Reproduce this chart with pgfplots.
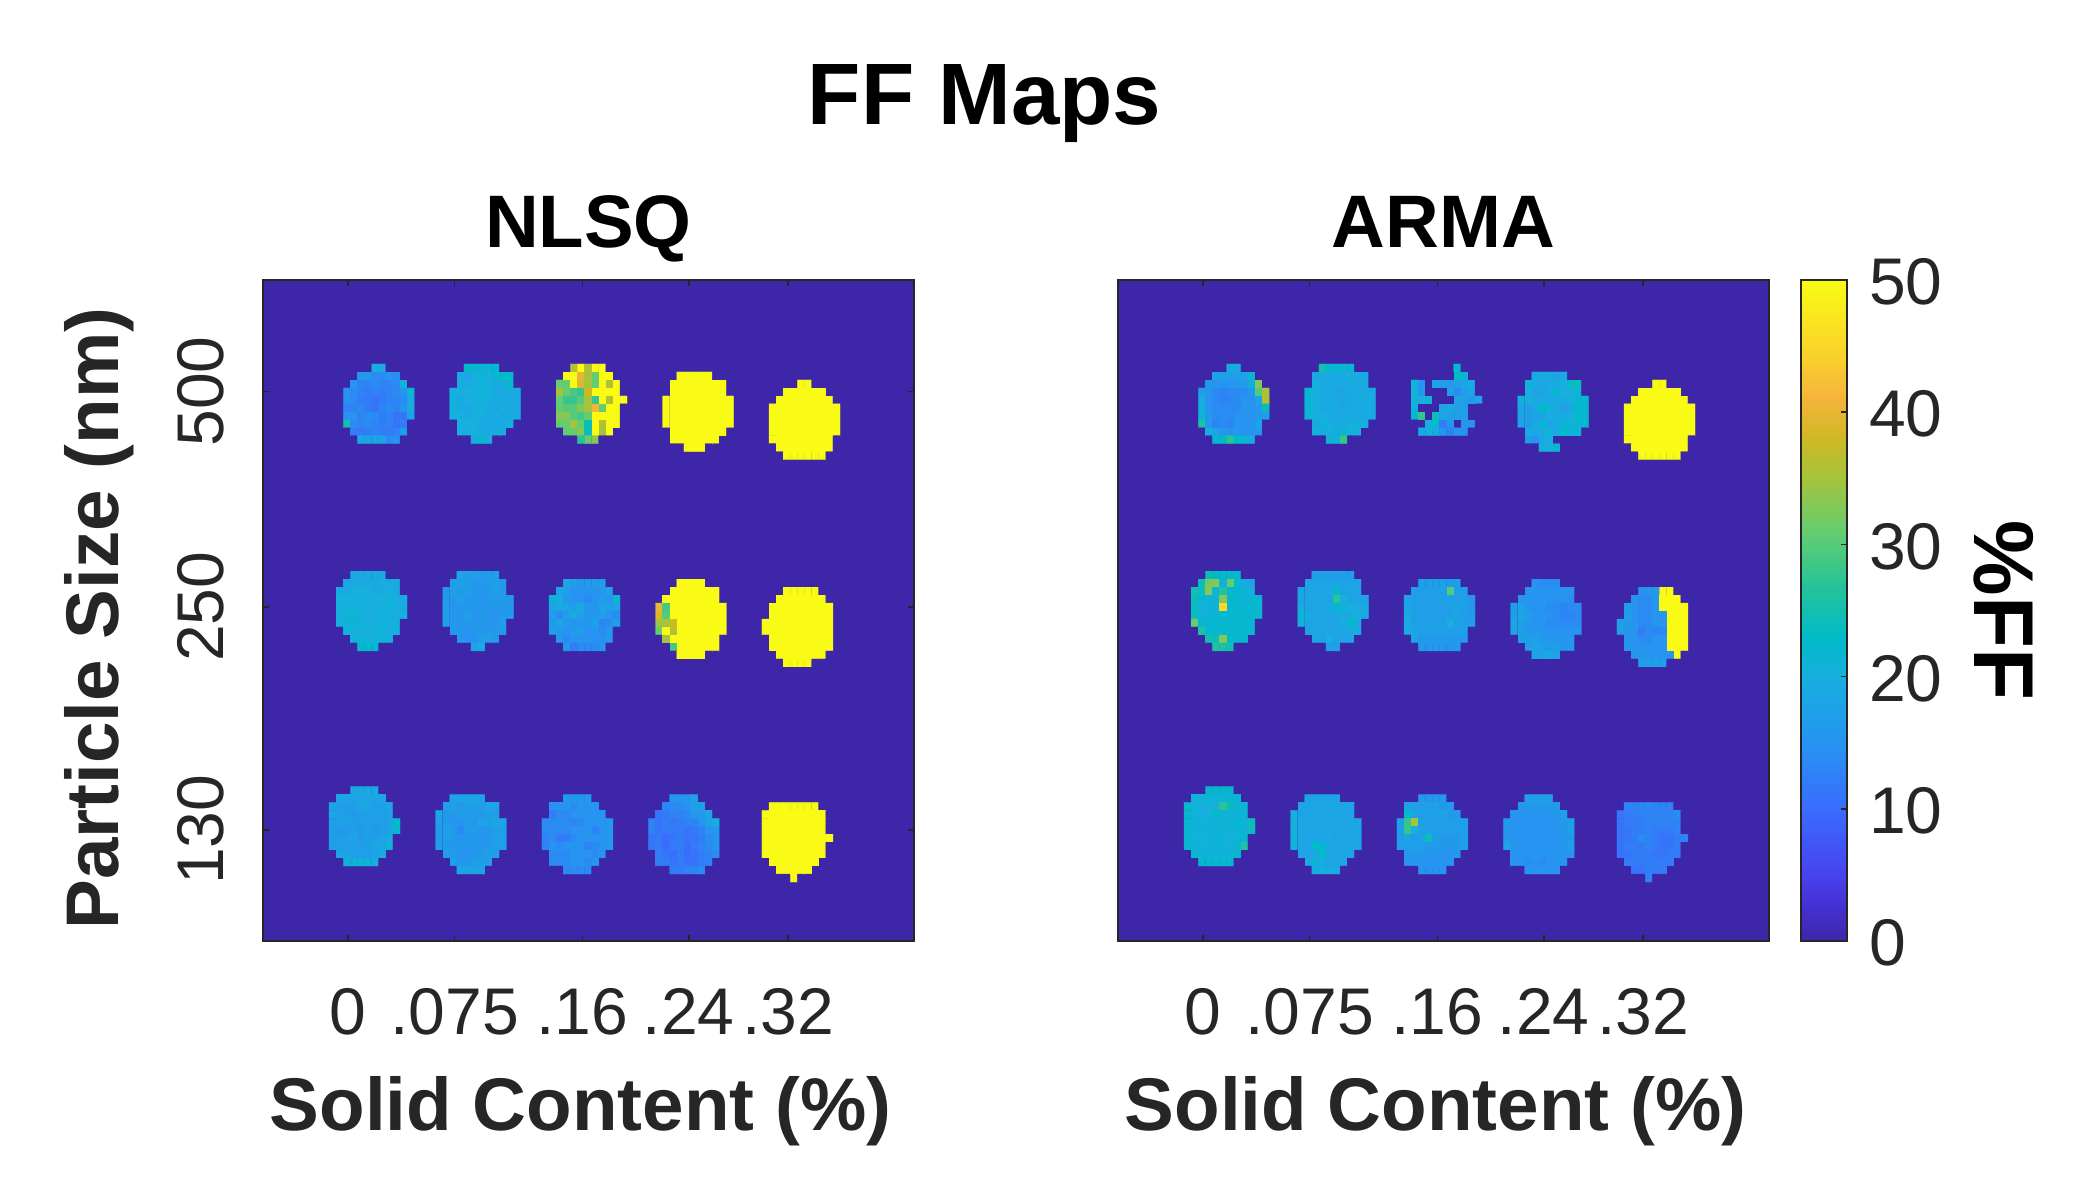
\documentclass[border=0pt]{standalone}
\usepackage{pgfplots}
\pgfplotsset{compat=1.18}
\usepackage{fontspec}
\setmainfont{Liberation Sans}
\definecolor{bgc}{RGB}{62,38,168}
\definecolor{ink}{gray}{0.15}
\newcount\bc \newcount\br
\newcommand\blob[4]{%
  \global\bc=0 \global\br=0
  \gdef\blobdata{}%
  \foreach \v in {#4}{%
    \pgfmathsetmacro\xx{#1+0.81+\the\bc}%
    \pgfmathsetmacro\yy{#2+1.04+\the\br}%
    \xdef\blobdata{\blobdata (\xx,\yy) [\v]}%
    \global\advance\bc by 1
    \ifnum\bc=#3 \global\bc=0 \global\advance\br by 1 \fi
  }%
  \edef\tmp{\noexpand\addplot[matrix plot*, mesh/cols=#3, mesh/ordering=x varies, point meta=explicit, draw=mapped color, line width=0.1pt] coordinates {\blobdata};}%
  \tmp
}
\pgfplotsset{
  colormap={ffparula}{rgb255(0cm)=(62,38,168) rgb255(3cm)=(70,50,215) rgb255(5cm)=(72,66,238) rgb255(10cm)=(58,108,253) rgb255(15cm)=(38,148,240) rgb255(20cm)=(22,175,222) rgb255(23cm)=(0,187,200) rgb255(27cm)=(40,195,150) rgb255(31cm)=(100,205,110) rgb255(35cm)=(165,195,60) rgb255(38cm)=(205,185,35) rgb255(41cm)=(245,180,60) rgb255(45cm)=(250,215,40) rgb255(50cm)=(249,251,20)},
  ffbase/.style={
    scale only axis, height=330.5pt, axis on top,
    point meta min=0, point meta max=50,
    colormap name=ffparula,
    tick align=inside, major tick length=3pt,
    every tick/.style={ink, line width=0.8pt},
    axis line style={ink, line width=0.9pt},
    tick label style={font=\fontsize{33}{36}\selectfont, text=ink},
  },
  ffaxis/.style={
    ffbase,
    xmin=0, xmax=91.74, ymin=0, ymax=82.94, y dir=reverse,
    axis background/.style={fill=bgc},
    xtick={12,27,45,60,74},
    xticklabels={0,.075,.16,.24,.32},
    xticklabel style={yshift=-20.3pt},
    label style={font=\bfseries\fontsize{37.3}{42}\selectfont, text=ink},
    xlabel={Solid Content (\%)},
    xlabel style={yshift=-13.7pt, xshift=-4pt},
    title style={font=\bfseries\fontsize{37.2}{42}\selectfont, text=black, at={(0.5,1)}, anchor=base, yshift=10pt},
  }
}
\begin{document}
\begin{tikzpicture}
\path[use as bounding box] (0,0) rectangle (1040.5pt,591pt);
\node[font=\bfseries\fontsize{43.6}{48}\selectfont] at (492.3pt,539pt) {FF Maps};
\begin{axis}[ffaxis, at={(131.5pt,120.5pt)}, anchor=south west, width=325.5pt,
  title={NLSQ},
  ytick={14,41,69}, yticklabels={500,250,130},
  yticklabel style={rotate=90, anchor=south, yshift=16pt},
  ylabel={Particle Size (nm)}, ylabel style={yshift=14.5pt, xshift=-4pt}]
\blob{11}{10}{10}{
0,0,0,0,20,19,0,0,0,0,
0,0,16,16,14,14,15,14,0,0,
0,15,13,13,14,13,13,14,21,0,
15,14,13,12,13,12,13,14,15,22,
15,14,12,12,11,12,13,13,14,19,
13,13,14,12,11,13,14,13,15,19,
15,15,13,14,14,12,13,11,11,18,
25,14,13,14,13,12,13,11,12,0,
0,12,12,12,13,12,12,13,17,0,
0,0,19,18,18,18,14,15,0,0}
\blob{26}{10}{10}{
0,0,23,22,21,22,22,0,0,0,
0,19,18,20,21,20,22,23,23,0,
0,19,19,20,21,20,19,20,22,0,
20,20,20,20,21,21,19,19,19,19,
21,19,20,20,21,20,19,19,19,19,
20,19,19,20,20,19,19,20,19,19,
20,20,19,20,20,19,20,19,19,19,
0,20,20,20,19,19,19,19,20,0,
0,20,20,20,19,19,19,20,0,0,
0,0,0,19,22,20,0,0,0,0}
\blob{41}{10}{10}{
0,0,36,50,36,50,50,0,0,0,
0,50,50,40,35,31,50,50,0,0,
31,31,50,39,35,31,50,36,50,0,
35,31,29,28,38,50,50,50,50,0,
31,28,28,30,35,28,50,36,50,50,
31,30,30,33,35,41,31,50,50,0,
33,33,30,29,31,50,50,50,50,0,
31,31,35,31,24,50,36,50,50,0,
0,31,31,33,24,50,35,50,0,0,
0,0,0,27,31,33,0,0,0,0}
\blob{56}{11}{10}{
0,0,50,50,50,50,50,0,0,0,
0,50,50,50,50,50,50,50,50,0,
0,50,50,50,50,50,50,50,50,0,
50,50,50,50,50,50,50,50,50,50,
50,50,50,50,50,50,50,50,50,50,
50,50,50,50,50,50,50,50,50,50,
50,50,50,50,50,50,50,50,50,50,
0,50,50,50,50,50,50,50,50,0,
0,50,50,50,50,50,50,50,0,0,
0,0,0,50,50,50,0,0,0,0}
\blob{71}{12}{10}{
0,0,0,0,50,50,0,0,0,0,
0,0,50,50,50,50,50,50,0,0,
0,50,50,50,50,50,50,50,50,0,
50,50,50,50,50,50,50,50,50,50,
50,50,50,50,50,50,50,50,50,50,
50,50,50,50,50,50,50,50,50,50,
50,50,50,50,50,50,50,50,50,50,
50,50,50,50,50,50,50,50,50,0,
0,50,50,50,50,50,50,50,50,0,
0,0,50,50,50,50,50,50,0,0}
\blob{10}{36}{10}{
0,0,19,19,19,19,19,0,0,0,
0,19,19,19,19,19,20,19,19,0,
19,19,20,20,20,19,19,20,19,0,
20,20,20,20,20,20,20,21,20,19,
20,20,21,20,20,20,20,21,20,19,
20,21,21,21,20,20,21,20,20,20,
20,21,21,21,20,20,21,21,20,0,
0,21,20,20,20,21,21,20,20,0,
0,0,21,21,21,20,21,21,0,0,
0,0,0,22,23,22,0,0,0,0}
\blob{25}{36}{10}{
0,0,18,17,17,16,17,17,0,0,
0,17,17,17,16,16,16,17,16,0,
16,17,16,17,16,15,16,17,16,0,
16,16,17,16,16,15,16,16,16,16,
17,15,16,16,16,16,15,16,16,16,
17,16,16,17,15,16,16,15,16,16,
17,16,15,16,16,16,15,15,17,0,
0,16,16,15,16,16,16,16,16,0,
0,0,16,15,15,17,17,16,0,0,
0,0,0,0,18,19,0,0,0,0}
\blob{40}{37}{10}{
0,0,18,17,16,16,17,17,0,0,
0,18,17,15,15,15,15,16,18,0,
22,19,16,15,15,14,15,16,15,22,
18,19,18,17,19,16,15,18,17,18,
17,14,17,19,17,15,16,17,15,14,
16,18,16,15,15,16,17,13,14,17,
17,16,15,16,17,15,15,14,16,0,
0,16,14,15,15,15,15,15,16,0,
0,0,16,12,14,14,14,15,0,0}
\blob{55}{37}{10}{
0,0,0,50,50,50,50,0,0,0,
0,0,50,50,50,50,50,50,50,0,
0,50,50,50,50,50,50,50,50,0,
40,29,50,50,50,50,50,50,50,50,
39,30,50,50,50,50,50,50,50,50,
35,35,38,50,50,50,50,50,50,50,
31,50,36,50,50,50,50,50,50,50,
0,35,50,50,50,50,50,50,50,0,
0,0,29,50,50,50,50,50,50,0,
0,0,0,50,50,50,50,0,0,0}
\blob{70}{38}{10}{
0,0,0,50,50,50,50,50,0,0,
0,0,50,50,50,50,50,50,50,0,
0,50,50,50,50,50,50,50,50,50,
0,50,50,50,50,50,50,50,50,50,
50,50,50,50,50,50,50,50,50,50,
50,50,50,50,50,50,50,50,50,50,
0,50,50,50,50,50,50,50,50,50,
0,50,50,50,50,50,50,50,50,50,
0,0,50,50,50,50,50,50,50,0,
0,0,0,50,50,50,50,0,0,0}
\blob{9}{63}{10}{
0,0,0,19,19,19,19,0,0,0,
0,18,18,18,18,18,18,18,0,0,
18,17,17,17,18,18,17,17,18,0,
18,17,17,16,17,17,17,17,18,0,
17,17,17,17,17,17,17,17,18,23,
17,16,16,17,16,17,16,17,18,22,
17,17,17,18,16,17,17,18,19,0,
17,17,17,17,17,17,18,18,21,0,
0,18,18,17,17,17,18,19,0,0,
0,0,21,21,21,21,20,0,0,0}
\blob{24}{64}{10}{
0,0,18,18,18,18,18,0,0,0,
0,17,17,16,17,17,17,18,18,0,
19,16,16,17,16,17,16,17,17,0,
17,16,15,15,17,16,18,17,18,18,
16,17,16,14,16,17,15,16,17,17,
16,17,16,15,16,16,15,16,17,17,
17,16,16,16,15,16,16,16,17,17,
0,17,16,15,15,16,16,17,17,0,
0,0,17,16,16,17,17,17,0,0,
0,0,0,18,18,18,18,0,0,0}
\blob{39}{64}{10}{
0,0,0,16,16,16,16,0,0,0,
0,15,15,15,14,15,15,15,0,0,
0,12,14,14,15,15,15,15,15,0,
14,14,14,14,13,14,15,15,15,16,
14,14,14,14,15,15,15,13,15,16,
13,14,12,12,14,15,15,15,15,16,
13,15,14,15,15,15,13,14,15,16,
0,14,14,14,15,15,15,14,15,0,
0,14,14,14,15,15,14,15,0,0,
0,0,0,14,14,14,14,0,0,0}
\blob{54}{64}{10}{
0,0,0,16,15,15,18,0,0,0,
0,0,13,14,14,15,17,17,0,0,
0,11,12,13,13,14,16,16,18,0,
13,11,12,11,12,13,13,15,18,20,
13,11,12,12,12,11,12,13,15,16,
11,12,10,11,12,11,11,12,14,15,
11,12,10,12,12,10,12,13,14,15,
0,12,11,10,12,10,11,12,13,14,
0,12,12,11,12,11,11,12,13,0,
0,0,0,12,12,13,13,14,0,0}
\blob{70}{65}{10}{
0,50,50,50,50,50,50,50,0,0,
50,50,50,50,50,50,50,50,50,0,
50,50,50,50,50,50,50,50,50,0,
50,50,50,50,50,50,50,50,50,0,
50,50,50,50,50,50,50,50,50,50,
50,50,50,50,50,50,50,50,50,0,
50,50,50,50,50,50,50,50,50,0,
0,50,50,50,50,50,50,50,0,0,
0,0,50,50,50,50,50,0,0,0,
0,0,0,0,50,0,0,0,0,0}
\end{axis}
\begin{axis}[ffaxis, at={(559pt,120.5pt)}, anchor=south west, width=325.5pt,
  title={ARMA},
  ytick=\empty]
\blob{11}{10}{10}{
0,0,0,0,19,19,0,0,0,0,
0,0,18,17,17,17,18,22,0,0,
0,16,15,15,15,16,16,19,33,0,
17,15,14,13,14,14,14,16,30,35,
19,15,14,13,13,14,15,15,18,36,
21,15,14,14,14,14,15,15,16,24,
21,16,14,14,14,15,15,15,16,17,
26,16,13,14,13,15,15,15,18,0,
0,20,18,15,15,16,15,15,16,0,
0,0,22,23,27,23,21,19,0,0}
\blob{26}{10}{10}{
0,0,25,22,22,21,22,0,0,0,
0,19,19,19,19,19,20,19,19,0,
0,20,19,19,19,19,19,19,19,0,
22,20,19,19,18,18,19,19,19,19,
22,20,19,19,19,18,18,19,19,19,
22,20,19,19,19,18,19,19,19,19,
21,20,20,19,19,19,19,19,19,19,
0,19,21,20,19,19,20,21,20,0,
0,20,19,20,19,22,20,20,0,0,
0,0,0,21,21,28,0,0,0,0}
\blob{41}{10}{10}{
0,0,0,0,0,0,22,0,0,0,
0,0,0,0,0,0,23,22,0,0,
21,15,0,18,17,16,17,18,19,0,
21,16,0,0,0,17,14,17,18,0,
21,20,21,0,0,0,18,17,16,18,
21,0,0,0,18,19,17,17,0,0,
22,28,0,24,18,17,17,17,0,0,
0,0,21,23,12,16,0,15,15,0,
0,19,20,19,16,13,15,15,0,0}
\blob{56}{11}{10}{
0,0,19,19,19,18,19,0,0,0,
0,21,19,18,19,19,20,23,24,0,
0,20,18,18,19,22,20,20,21,0,
21,20,19,19,19,19,19,20,22,22,
18,17,19,23,21,19,17,19,22,22,
18,17,18,18,20,19,19,20,23,22,
18,17,19,22,18,19,22,21,22,22,
0,19,19,19,21,19,23,21,21,0,
0,17,15,19,20,0,0,0,0,0,
0,0,0,20,20,22,0,0,0,0}
\blob{71}{12}{10}{
0,0,0,0,50,50,0,0,0,0,
0,0,50,50,50,50,50,50,0,0,
0,50,50,50,50,50,50,50,50,0,
50,50,50,50,50,50,50,50,50,50,
50,50,50,50,50,50,50,50,50,50,
50,50,50,50,50,50,50,50,50,50,
50,50,50,50,50,50,50,50,50,50,
50,50,50,50,50,50,50,50,50,0,
0,50,50,50,50,50,50,50,50,0,
0,0,50,50,50,50,50,50,0,0}
\blob{10}{36}{10}{
0,0,24,23,23,22,22,0,0,0,
0,24,32,33,21,31,22,19,18,0,
25,24,33,21,26,22,22,21,20,0,
24,22,21,21,33,22,22,21,22,22,
24,20,21,21,45,22,22,22,22,22,
24,21,21,22,22,22,22,22,22,22,
31,22,21,22,22,22,22,22,22,0,
0,26,22,22,22,22,22,22,22,0,
0,0,25,24,33,23,22,22,0,0,
0,0,0,26,26,25,0,0,0,0}
\blob{25}{36}{10}{
0,0,17,17,17,17,17,17,0,0,
0,18,18,18,18,18,18,18,18,0,
18,18,18,18,18,22,18,18,18,0,
18,18,18,18,18,27,20,18,18,18,
19,18,18,18,19,22,21,20,19,19,
21,19,18,18,18,19,19,19,20,19,
21,18,18,18,18,18,19,23,19,0,
0,18,18,18,18,18,18,19,19,0,
0,0,18,18,20,18,18,18,0,0,
0,0,0,0,17,17,0,0,0,0}
\blob{40}{37}{10}{
0,0,17,17,17,17,17,17,0,0,
0,17,17,17,17,17,30,17,17,0,
18,17,17,17,17,17,17,17,17,15,
18,17,17,17,17,17,17,18,17,16,
19,17,17,17,17,17,17,18,17,16,
19,17,17,17,17,17,20,17,17,17,
19,18,17,17,17,17,17,17,17,0,
0,18,16,16,16,16,16,16,16,0,
0,0,16,16,16,16,16,16,0,0}
\blob{55}{37}{10}{
0,0,0,15,14,14,14,0,0,0,
0,0,15,15,15,15,15,15,15,0,
0,15,15,15,15,15,15,15,14,0,
17,18,15,15,15,14,14,13,14,14,
17,18,17,15,15,15,14,13,13,14,
18,17,16,15,15,14,14,14,14,14,
18,17,16,16,15,15,15,15,15,15,
0,17,17,17,16,16,16,15,15,0,
0,0,17,18,17,16,17,16,16,0,
0,0,0,18,18,19,18,0,0,0}
\blob{70}{38}{10}{
0,0,0,15,15,16,50,50,0,0,
0,0,15,14,14,15,50,50,50,0,
0,17,15,14,14,15,50,50,50,50,
0,17,15,14,14,15,15,50,50,50,
17,16,15,14,14,15,15,50,50,50,
17,16,15,12,14,13,14,50,50,50,
0,15,15,14,14,15,15,50,50,50,
0,16,15,15,15,15,15,50,50,50,
0,0,16,16,15,15,15,15,50,0,
0,0,0,17,17,17,17,0,0,0}
\blob{9}{63}{10}{
0,0,0,22,22,22,22,0,0,0,
0,21,21,21,21,21,22,22,0,0,
22,21,20,20,20,27,24,21,22,0,
22,21,20,20,23,21,21,21,21,0,
22,21,21,21,21,21,21,23,21,24,
22,21,21,21,21,21,21,21,21,24,
22,21,20,21,21,21,20,21,22,0,
22,21,21,21,21,21,21,21,26,0,
0,22,21,21,21,21,21,22,0,0,
0,0,22,22,22,22,22,0,0,0}
\blob{24}{64}{10}{
0,0,18,18,18,18,18,0,0,0,
0,18,18,18,18,18,18,18,18,0,
20,18,18,18,18,18,18,18,18,0,
20,18,18,18,18,18,18,18,18,18,
20,18,18,18,19,18,18,18,18,18,
21,18,18,18,18,19,18,18,18,18,
20,18,18,23,22,18,18,18,18,18,
0,18,18,18,23,18,18,18,18,0,
0,0,19,22,19,18,18,18,0,0,
0,0,0,19,20,19,19,0,0,0}
\blob{39}{64}{10}{
0,0,0,16,16,16,16,0,0,0,
0,17,17,17,17,17,16,16,0,0,
0,23,18,17,17,17,18,16,16,0,
17,28,35,17,17,17,17,17,17,17,
17,28,20,17,17,17,17,17,17,17,
17,18,17,17,24,17,16,16,16,17,
17,17,17,17,16,16,16,16,16,17,
0,16,16,16,15,16,15,15,16,0,
0,15,15,15,15,15,15,15,0,0,
0,0,0,15,15,15,15,0,0,0}
\blob{54}{64}{10}{
0,0,0,17,17,17,17,0,0,0,
0,0,16,16,16,16,16,16,0,0,
0,15,15,15,15,15,15,16,17,0,
16,15,15,15,15,15,15,15,16,17,
16,15,15,15,15,15,15,15,16,17,
16,15,15,15,15,15,15,15,16,16,
18,15,15,15,15,15,15,15,16,17,
0,15,15,15,15,15,15,15,15,15,
0,15,15,14,15,14,15,15,15,0,
0,0,0,15,15,15,15,15,0,0}
\blob{70}{65}{10}{
0,13,13,13,14,13,13,13,0,0,
11,12,12,13,13,13,13,13,14,0,
11,12,12,12,13,13,13,13,13,0,
11,11,12,12,13,12,12,12,13,0,
11,11,12,14,13,12,11,11,12,13,
11,12,12,12,13,12,11,11,12,0,
11,11,12,12,12,11,11,12,12,0,
0,12,12,12,12,12,12,12,0,0,
0,0,11,11,12,12,12,0,0,0,
0,0,0,0,13,0,0,0,0,0}
\end{axis}
\begin{axis}[ffbase, at={(900.5pt,120.5pt)}, anchor=south west, width=23pt,
  xmin=0, xmax=1, ymin=0, ymax=50, xtick=\empty,
  ytick={0,10,20,30,40,50}, yticklabels={0,10,20,30,40,50},
  ytick pos=right, yticklabel pos=right,
  yticklabel style={xshift=7.5pt, yshift=-1pt},
  ylabel={\%FF},
  ylabel style={font=\bfseries\fontsize{42.5}{46}\selectfont, text=black, at={(axis description cs:4.41,0.5)}, anchor=center, rotate=180}]
\addplot[surf, shader=interp, mesh/cols=2, point meta=explicit] coordinates {(0,0) [0] (1,0) [0] (0,50) [50] (1,50) [50]};
\end{axis}
\end{tikzpicture}
\end{document}
